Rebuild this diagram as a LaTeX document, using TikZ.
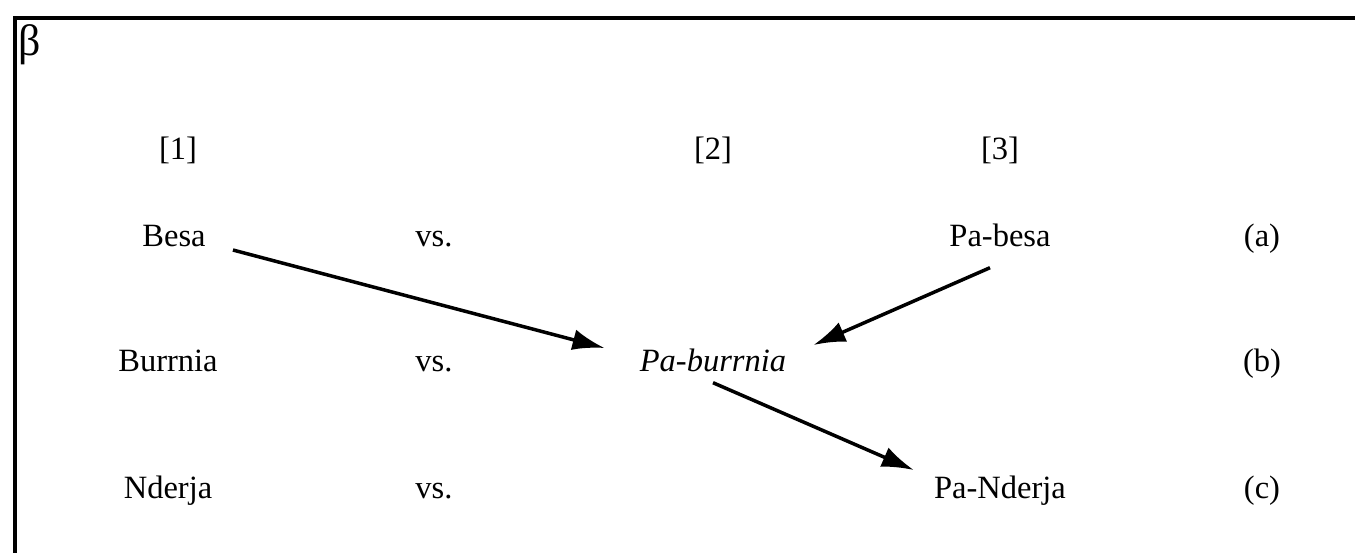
\documentclass[tikz,border=0pt]{standalone}
\usepackage{fontspec}
\setmainfont{Liberation Serif}
\usetikzlibrary{arrows.meta}

\begin{document}
\begin{tikzpicture}[x=0.02cm, y=-0.02cm,
  word/.style={font=\fontsize{18.5}{22}\selectfont, inner sep=0pt, text height=0.7em, text depth=0.25em},
  link/.style={-{Latex[length=0.64cm, width=0.42cm]}, line width=0.07cm}]
  \useasboundingbox (0,0) rectangle (1355,552);
  % frame, cut off at the right and at the bottom
  \draw[line width=0.075cm] (15,560) -- (15,18) -- (1360,18);
  \node[anchor=north west, inner sep=0pt, font=\fontsize{25}{27}\selectfont] (beta) at (18,24) {β};
  % column numbers
  \node[word] (col1) at (178,156) {[1]};
  \node[word] (col2) at (713,156) {[2]};
  \node[word] (col3) at (1000,156) {[3]};
  % rows (a)-(c)
  \foreach \y/\r in {243/a, 368/b, 495/c} {
    \node[word] (vs\r) at (434,\y) {vs.};
    \node[word] (lab\r) at (1262,\y) {(\r)};
  }
  \node[word] (besa) at (174,243) {Besa};
  \node[word] (burrnia) at (168,368) {Burrnia};
  \node[word] (nderja) at (168,495) {Nderja};
  \node[word] (pabesa) at (1000,243) {Pa-besa};
  \node[word, font=\fontsize{18.5}{22}\selectfont\itshape] (paburrnia) at (713,368) {Pa-burrnia};
  \node[word] (panderja) at (1000,495) {Pa-Nderja};
  % arrows
  \draw[link] ([shift={(27,7)}]besa.east) -- ([shift={(-35,-20)}]paburrnia.west);
  \draw[link] ([shift={(-10,16)}]pabesa.south) -- ([shift={(27,-23)}]paburrnia.east);
  \draw[link] ([shift={(0,6)}]paburrnia.south) -- ([shift={(-20,-25)}]panderja.west);
\end{tikzpicture}
\end{document}
